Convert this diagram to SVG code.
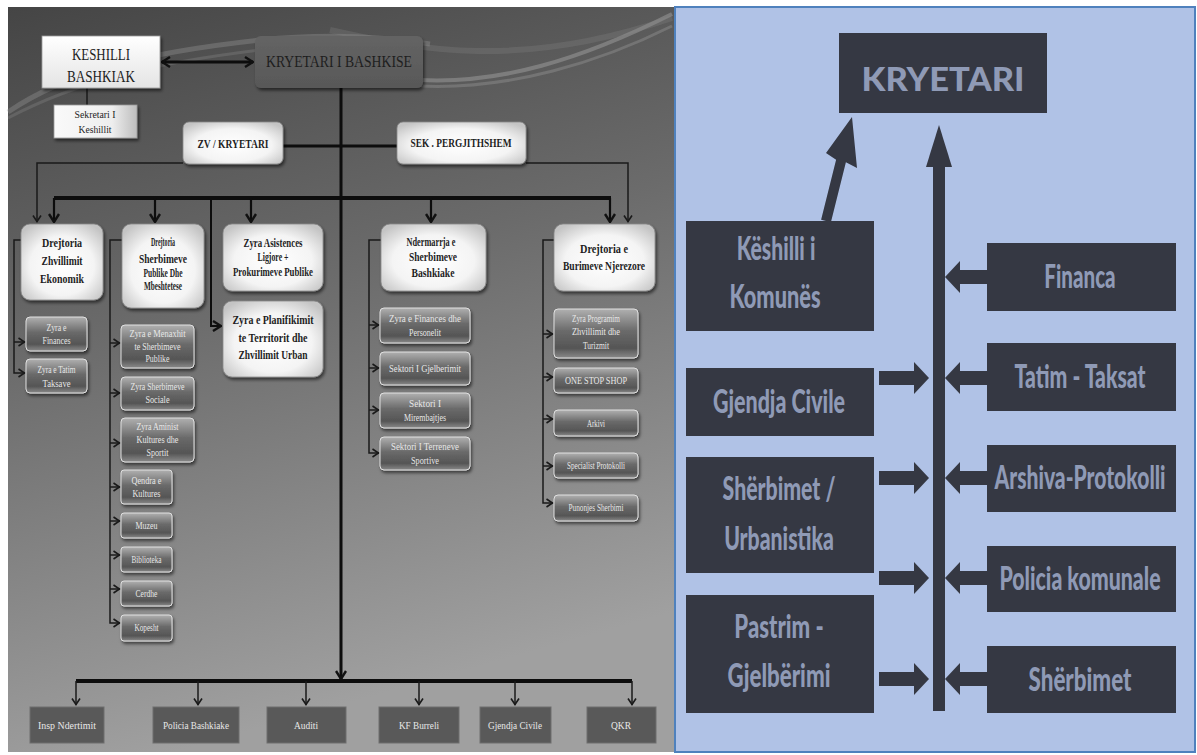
<svg xmlns="http://www.w3.org/2000/svg" width="1197" height="755" viewBox="0 0 1197 755">
<defs>
<linearGradient id="bgL" x1="0" y1="0" x2="0.25" y2="1">
<stop offset="0" stop-color="#454545"/>
<stop offset="0.45" stop-color="#6b6b6b"/>
<stop offset="1" stop-color="#a0a0a0"/>
</linearGradient>
<radialGradient id="gWhite" cx="0.5" cy="0.55" r="0.65">
<stop offset="0" stop-color="#ffffff"/>
<stop offset="0.6" stop-color="#f4f4f4"/>
<stop offset="1" stop-color="#c4c4c4"/>
</radialGradient>
<linearGradient id="gKes" x1="0" y1="0" x2="0" y2="1">
<stop offset="0" stop-color="#ffffff"/>
<stop offset="1" stop-color="#e4e4e4"/>
</linearGradient>
<linearGradient id="gSek" x1="0" y1="0" x2="1" y2="0">
<stop offset="0" stop-color="#fafafa"/>
<stop offset="0.7" stop-color="#eeeeee"/>
<stop offset="1" stop-color="#bdbdbd"/>
</linearGradient>
<linearGradient id="gChild" x1="0" y1="0" x2="0" y2="1">
<stop offset="0" stop-color="#b0b0b0"/>
<stop offset="0.45" stop-color="#6a6a6a"/>
<stop offset="0.8" stop-color="#555555"/>
<stop offset="1" stop-color="#8a8a8a"/>
</linearGradient>
<linearGradient id="gKry" x1="0" y1="0" x2="0" y2="1">
<stop offset="0" stop-color="#646464"/>
<stop offset="1" stop-color="#585858"/>
</linearGradient>
<filter id="sh" x="-10%" y="-10%" width="130%" height="140%">
<feDropShadow dx="1.5" dy="2.5" stdDeviation="1.8" flood-color="#000" flood-opacity="0.55"/>
</filter>
<marker id="v" viewBox="0 0 10 12" refX="9" refY="6" markerWidth="10" markerHeight="12" orient="auto-start-reverse" markerUnits="userSpaceOnUse">
<path d="M1,1 L9,6 L1,11" fill="none" stroke="#111" stroke-width="2.4"/>
</marker>
<marker id="vs" viewBox="0 0 8 10" refX="7.5" refY="5" markerWidth="8" markerHeight="10" orient="auto" markerUnits="userSpaceOnUse">
<path d="M1,1 L7,5 L1,9" fill="none" stroke="#1a1a1a" stroke-width="1.6"/>
</marker>
<style>
.s{font-family:"Liberation Serif","Times New Roman",serif;text-anchor:middle}
.tb{font-weight:bold;fill:#1e1e1e;font-size:11.5px}
.tc{fill:#e8e8e8;font-size:9.5px}
.td{fill:#1e1e1e}
.wbox{fill:url(#gWhite);stroke:#8a8a8a;stroke-width:0.8;filter:url(#sh)}
.cbox{fill:url(#gChild);stroke:#e0e0e0;stroke-width:1;filter:url(#sh)}
.bbox{fill:#595959;stroke:#6e6e6e;stroke-width:1}
.thick{stroke:#0d0d0d;fill:none}
.thin{stroke:#1a1a1a;stroke-width:1.5;fill:none}
.rb{fill:#353843}
.rt{font-family:Lato,"Open Sans","Liberation Sans",sans-serif;font-weight:900;fill:#8f9ab6;font-size:32px;text-anchor:middle}
.ra{fill:#353843}
</style>
</defs>

<rect x="0" y="0" width="1197" height="755" fill="#ffffff"/>

<!-- LEFT PANEL background -->
<rect x="8" y="7" width="666" height="745" fill="url(#bgL)"/>
<path d="M8,112 C70,70 150,52 260,40 C320,34 380,36 430,44" fill="none" stroke="#9a9a9a" stroke-opacity="0.35" stroke-width="5"/>
<path d="M8,118 C80,80 160,62 260,50" fill="none" stroke="#b0b0b0" stroke-opacity="0.2" stroke-width="3"/>
<path d="M420,80 C500,84 580,60 672,14" fill="none" stroke="#bdbdbd" stroke-opacity="0.35" stroke-width="4"/>
<path d="M420,86 C510,90 600,62 672,26" fill="none" stroke="#bdbdbd" stroke-opacity="0.25" stroke-width="3"/>
<path d="M330,30 C420,50 520,70 672,18" fill="none" stroke="#8a8a8a" stroke-opacity="0.25" stroke-width="6"/>

<!-- connectors (left) -->
<g id="connectors-left">
<path class="thick" d="M162,62 H253" stroke-width="3" marker-start="url(#v)" marker-end="url(#v)"/>
<path class="thin" d="M87,88 V105"/>
<path class="thick" d="M341,88 V679" stroke-width="3" marker-end="url(#v)"/>
<path class="thick" d="M283,146 H397" stroke-width="3"/>
<path class="thick" d="M54,198 H611" stroke-width="4"/>
<path class="thick" d="M54,198 V222" stroke-width="2.2" marker-end="url(#v)"/>
<path class="thick" d="M155,198 V222" stroke-width="2.2" marker-end="url(#v)"/>
<path class="thick" d="M251,198 V222" stroke-width="2.2" marker-end="url(#v)"/>
<path class="thick" d="M431,198 V222" stroke-width="2.2" marker-end="url(#v)"/>
<path class="thick" d="M610,198 V222" stroke-width="2.2" marker-end="url(#v)"/>
<path class="thick" d="M211,198 V326 H221" stroke-width="2" marker-end="url(#v)"/>
<path class="thin" d="M183,163 H37 V222" marker-end="url(#vs)"/>
<path class="thin" d="M526,163 H628 V222" marker-end="url(#vs)"/>
<path class="thin" d="M21,240 H14 V373 H25" marker-end="url(#vs)"/>
<path class="thin" d="M14,342 H25" marker-end="url(#vs)"/>
<path class="thin" d="M122,240 H110 V623 H120" marker-end="url(#vs)"/>
<path class="thin" d="M110,343 H120" marker-end="url(#vs)"/>
<path class="thin" d="M110,393 H120" marker-end="url(#vs)"/>
<path class="thin" d="M110,443 H120" marker-end="url(#vs)"/>
<path class="thin" d="M110,487 H120" marker-end="url(#vs)"/>
<path class="thin" d="M110,521 H120" marker-end="url(#vs)"/>
<path class="thin" d="M110,555 H120" marker-end="url(#vs)"/>
<path class="thin" d="M110,589 H120" marker-end="url(#vs)"/>
<path class="thin" d="M381,240 H369 V453 H379" marker-end="url(#vs)"/>
<path class="thin" d="M369,325 H379" marker-end="url(#vs)"/>
<path class="thin" d="M369,368 H379" marker-end="url(#vs)"/>
<path class="thin" d="M369,410 H379" marker-end="url(#vs)"/>
<path class="thin" d="M554,240 H543 V503 H553" marker-end="url(#vs)"/>
<path class="thin" d="M543,334 H553" marker-end="url(#vs)"/>
<path class="thin" d="M543,377 H553" marker-end="url(#vs)"/>
<path class="thin" d="M543,419 H553" marker-end="url(#vs)"/>
<path class="thin" d="M543,466 H553" marker-end="url(#vs)"/>
<path class="thick" d="M76,681 H632" stroke-width="4"/>
<path class="thin" d="M76,681 V705" marker-end="url(#vs)"/>
<path class="thin" d="M198,681 V705" marker-end="url(#vs)"/>
<path class="thin" d="M306,681 V705" marker-end="url(#vs)"/>
<path class="thin" d="M419,681 V705" marker-end="url(#vs)"/>
<path class="thin" d="M515,681 V705" marker-end="url(#vs)"/>
<path class="thin" d="M632,681 V705" marker-end="url(#vs)"/>
</g>

<g id="keshilli-bashkiak">
<rect x="42" y="36" width="118" height="52" fill="url(#gKes)" stroke="#9a9a9a" stroke-width="0.8" filter="url(#sh)"/>
<text class="s td" x="101" y="60" font-size="16" textLength="58" lengthAdjust="spacingAndGlyphs">KESHILLI</text>
<text class="s td" x="101" y="82" font-size="16" textLength="68" lengthAdjust="spacingAndGlyphs">BASHKIAK</text>
</g>
<g id="kryetari-bashkise">
<rect x="255" y="36" width="168" height="52" rx="6" fill="url(#gKry)" filter="url(#sh)"/>
<text class="s td" x="339" y="67" font-size="16" textLength="146" lengthAdjust="spacingAndGlyphs">KRYETARI I BASHKISE</text>
</g>
<g id="sekretari">
<rect x="54" y="105" width="83" height="33" fill="url(#gSek)" stroke="#9a9a9a" stroke-width="0.8" filter="url(#sh)"/>
<text class="s td" x="95" y="118" font-size="10.5" textLength="41" lengthAdjust="spacingAndGlyphs">Sekretari I</text>
<text class="s td" x="95" y="133" font-size="10.5" textLength="33" lengthAdjust="spacingAndGlyphs">Keshillit</text>
</g>
<g id="zv-kryetari">
<rect x="183" y="122" width="100" height="42" rx="6" class="wbox"/>
<text class="s tb" x="233" y="148" font-size="11" textLength="71" lengthAdjust="spacingAndGlyphs">ZV / KRYETARI</text>
</g>
<g id="sek-pergjithshem">
<rect x="397" y="122" width="129" height="42" rx="6" class="wbox"/>
<text class="s tb" x="461" y="147" font-size="11" textLength="101" lengthAdjust="spacingAndGlyphs">SEK . PERGJITHSHEM</text>
</g>

<g id="drejtoria-zhvillimit">
<rect x="21" y="224" width="82" height="76" rx="9" class="wbox"/>
<text class="s tb" x="62" y="247" textLength="40" lengthAdjust="spacingAndGlyphs">Drejtoria</text>
<text class="s tb" x="62" y="265" textLength="41" lengthAdjust="spacingAndGlyphs">Zhvillimit</text>
<text class="s tb" x="62" y="283" textLength="44" lengthAdjust="spacingAndGlyphs">Ekonomik</text>
</g>
<g id="drejtoria-sherbimeve">
<rect x="122" y="224" width="82" height="84" rx="9" class="wbox"/>
<text class="s tb" x="163" y="246" font-size="10" textLength="24" lengthAdjust="spacingAndGlyphs">Drejtoria</text>
<text class="s tb" x="163" y="263" textLength="48" lengthAdjust="spacingAndGlyphs">Sherbimeve</text>
<text class="s tb" x="163" y="277" font-size="10" textLength="39" lengthAdjust="spacingAndGlyphs">Publike Dhe</text>
<text class="s tb" x="163" y="290" font-size="10" textLength="38" lengthAdjust="spacingAndGlyphs">Mbeshtetese</text>
</g>
<g id="zyra-asistences">
<rect x="223" y="224" width="100" height="67" rx="9" class="wbox"/>
<text class="s tb" x="273" y="247" font-size="10.5" textLength="59" lengthAdjust="spacingAndGlyphs">Zyra Asistences</text>
<text class="s tb" x="273" y="261" font-size="10.5" textLength="31" lengthAdjust="spacingAndGlyphs">Ligjore +</text>
<text class="s tb" x="273" y="276" font-size="10.5" textLength="80" lengthAdjust="spacingAndGlyphs">Prokurimeve Publike</text>
</g>
<g id="zyra-planifikimit">
<rect x="223" y="301" width="100" height="76" rx="9" class="wbox"/>
<text class="s tb" x="273" y="324" textLength="81" lengthAdjust="spacingAndGlyphs">Zyra  e  Planifikimit</text>
<text class="s tb" x="273" y="342" textLength="69" lengthAdjust="spacingAndGlyphs">te Territorit dhe</text>
<text class="s tb" x="273" y="359" textLength="69" lengthAdjust="spacingAndGlyphs">Zhvillimit Urban</text>
</g>
<g id="ndermarrja">
<rect x="381" y="224" width="105" height="67" rx="9" class="wbox"/>
<text class="s tb" x="431" y="246" textLength="49" lengthAdjust="spacingAndGlyphs">Ndermarrja e</text>
<text class="s tb" x="433" y="261" textLength="48" lengthAdjust="spacingAndGlyphs">Sherbimeve</text>
<text class="s tb" x="433" y="277" textLength="43" lengthAdjust="spacingAndGlyphs">Bashkiake</text>
</g>
<g id="drejtoria-burimeve">
<rect x="554" y="224" width="101" height="67" rx="9" class="wbox"/>
<text class="s tb" x="604" y="253" textLength="48" lengthAdjust="spacingAndGlyphs">Drejtoria  e</text>
<text class="s tb" x="604" y="270" textLength="82" lengthAdjust="spacingAndGlyphs">Burimeve Njerezore</text>
</g>

<g id="zyra-finances"><rect x="26" y="317" width="61" height="34" rx="4" class="cbox"/>
<text class="s tc" x="56.5" y="331" textLength="20" lengthAdjust="spacingAndGlyphs">Zyra e</text>
<text class="s tc" x="56.5" y="344" textLength="28" lengthAdjust="spacingAndGlyphs">Finances</text></g>
<g id="zyra-tatim"><rect x="26" y="359" width="61" height="34" rx="4" class="cbox"/>
<text class="s tc" x="56.5" y="373" textLength="38" lengthAdjust="spacingAndGlyphs">Zyra e Tatim</text>
<text class="s tc" x="56.5" y="387" textLength="28" lengthAdjust="spacingAndGlyphs">Taksave</text></g>

<g id="zyra-menaxhit"><rect x="121" y="325" width="73" height="43" rx="4" class="cbox"/>
<text class="s tc" x="157.5" y="337" textLength="56" lengthAdjust="spacingAndGlyphs">Zyra e  Menaxhit</text>
<text class="s tc" x="157.5" y="350" textLength="46" lengthAdjust="spacingAndGlyphs">te Sherbimeve</text>
<text class="s tc" x="157.5" y="362" textLength="24" lengthAdjust="spacingAndGlyphs">Publike</text></g>
<g id="zyra-sherbimeve-sociale"><rect x="121" y="377" width="73" height="33" rx="4" class="cbox"/>
<text class="s tc" x="157.5" y="390" textLength="54" lengthAdjust="spacingAndGlyphs">Zyra Sherbimeve</text>
<text class="s tc" x="157.5" y="403" textLength="24" lengthAdjust="spacingAndGlyphs">Sociale</text></g>
<g id="zyra-aminist"><rect x="121" y="418" width="73" height="44" rx="4" class="cbox"/>
<text class="s tc" x="157.5" y="430" textLength="42" lengthAdjust="spacingAndGlyphs">Zyra  Aminist</text>
<text class="s tc" x="157.5" y="443" textLength="42" lengthAdjust="spacingAndGlyphs">Kultures  dhe</text>
<text class="s tc" x="157.5" y="456" textLength="22" lengthAdjust="spacingAndGlyphs">Sportit</text></g>
<g id="qendra-kultures"><rect x="121" y="470" width="51" height="34" rx="3" class="cbox"/>
<text class="s tc" x="146.5" y="484" textLength="30" lengthAdjust="spacingAndGlyphs">Qendra e</text>
<text class="s tc" x="146.5" y="497" textLength="28" lengthAdjust="spacingAndGlyphs">Kultures</text></g>
<g id="muzeu"><rect x="121" y="513" width="51" height="25" rx="3" class="cbox"/>
<text class="s tc" x="146.5" y="529" textLength="22" lengthAdjust="spacingAndGlyphs">Muzeu</text></g>
<g id="biblioteka"><rect x="121" y="547" width="51" height="25" rx="3" class="cbox"/>
<text class="s tc" x="146.5" y="563" textLength="30" lengthAdjust="spacingAndGlyphs">Biblioteka</text></g>
<g id="cerdhe"><rect x="121" y="581" width="51" height="25" rx="3" class="cbox"/>
<text class="s tc" x="146.5" y="597" textLength="22" lengthAdjust="spacingAndGlyphs">Cerdhe</text></g>
<g id="kopesht"><rect x="121" y="615" width="51" height="26" rx="3" class="cbox"/>
<text class="s tc" x="146.5" y="631" textLength="24" lengthAdjust="spacingAndGlyphs">Kopesht</text></g>

<g id="zyra-finances-personelit"><rect x="380" y="308" width="90" height="35" rx="4" class="cbox"/>
<text class="s tc" x="425" y="322" textLength="72" lengthAdjust="spacingAndGlyphs">Zyra e  Finances dhe</text>
<text class="s tc" x="425" y="336" textLength="32" lengthAdjust="spacingAndGlyphs">Personelit</text></g>
<g id="sektori-gjelberimit"><rect x="380" y="352" width="90" height="33" rx="4" class="cbox"/>
<text class="s tc" x="425" y="372" textLength="72" lengthAdjust="spacingAndGlyphs">Sektori I Gjelberimit</text></g>
<g id="sektori-mirembajtjes"><rect x="380" y="393" width="90" height="35" rx="4" class="cbox"/>
<text class="s tc" x="425" y="407" textLength="32" lengthAdjust="spacingAndGlyphs">Sektori  I</text>
<text class="s tc" x="425" y="421" textLength="42" lengthAdjust="spacingAndGlyphs">Mirembajtjes</text></g>
<g id="sektori-terreneve"><rect x="380" y="437" width="90" height="33" rx="4" class="cbox"/>
<text class="s tc" x="425" y="450" textLength="68" lengthAdjust="spacingAndGlyphs">Sektori I Terreneve</text>
<text class="s tc" x="425" y="464" textLength="28" lengthAdjust="spacingAndGlyphs">Sportive</text></g>

<g id="zyra-programim"><rect x="554" y="309" width="84" height="49" rx="4" class="cbox"/>
<text class="s tc" x="596" y="322" textLength="48" lengthAdjust="spacingAndGlyphs">Zyra  Programim</text>
<text class="s tc" x="596" y="335" textLength="48" lengthAdjust="spacingAndGlyphs">Zhvillimit dhe</text>
<text class="s tc" x="596" y="349" textLength="26" lengthAdjust="spacingAndGlyphs">Turizmit</text></g>
<g id="one-stop-shop"><rect x="554" y="368" width="84" height="25" rx="4" class="cbox"/>
<text class="s tc" x="596" y="384" textLength="62" lengthAdjust="spacingAndGlyphs">ONE STOP SHOP</text></g>
<g id="arkivi"><rect x="554" y="410" width="84" height="26" rx="4" class="cbox"/>
<text class="s tc" x="596" y="427" textLength="18" lengthAdjust="spacingAndGlyphs">Arkivi</text></g>
<g id="specialist-protokolli"><rect x="554" y="453" width="84" height="25" rx="4" class="cbox"/>
<text class="s tc" x="596" y="469" textLength="58" lengthAdjust="spacingAndGlyphs">Specialist  Protokolli</text></g>
<g id="punonjes-sherbimi"><rect x="554" y="495" width="84" height="26" rx="4" class="cbox"/>
<text class="s tc" x="596" y="511" textLength="55" lengthAdjust="spacingAndGlyphs">Punonjes Sherbimi</text></g>

<g id="insp-ndertimit"><rect x="30" y="707" width="74" height="36" class="bbox"/>
<text class="s tc" x="67" y="729" font-size="10" textLength="58" lengthAdjust="spacingAndGlyphs">Insp Ndertimit</text></g>
<g id="policia-bashkiake"><rect x="153" y="707" width="86" height="36" class="bbox"/>
<text class="s tc" x="196" y="729" font-size="10" textLength="66" lengthAdjust="spacingAndGlyphs">Policia Bashkiake</text></g>
<g id="auditi"><rect x="267" y="707" width="79" height="36" class="bbox"/>
<text class="s tc" x="306" y="729" font-size="10" textLength="24" lengthAdjust="spacingAndGlyphs">Auditi</text></g>
<g id="kf-burreli"><rect x="379" y="707" width="80" height="36" class="bbox"/>
<text class="s tc" x="419" y="729" font-size="10" textLength="40" lengthAdjust="spacingAndGlyphs">KF  Burreli</text></g>
<g id="gjendja-civile-l"><rect x="480" y="707" width="71" height="36" class="bbox"/>
<text class="s tc" x="515" y="729" font-size="10" textLength="54" lengthAdjust="spacingAndGlyphs">Gjendja Civile</text></g>
<g id="qkr"><rect x="587" y="707" width="69" height="36" class="bbox"/>
<text class="s tc" x="621" y="729" font-size="10" textLength="20" lengthAdjust="spacingAndGlyphs">QKR</text></g>

<!-- RIGHT PANEL -->
<rect x="675" y="7" width="520" height="745" fill="#b0c2e6" stroke="#4f81bd" stroke-width="2"/>

<g id="connectors-right">
<rect x="933" y="164" width="12" height="547" class="ra"/>
<polygon points="939,125 952,167 926,167" class="ra"/>
<polygon points="821.1,219.8 830.9,222.2 845.9,162.2 857,168 852,117 826,153 836.1,159.8" class="ra"/>
<polygon points="987,270 960,270 960,261 945,277 960,293 960,284 987,284" class="ra"/>
<polygon points="987,371 960,371 960,362 945,378 960,394 960,385 987,385" class="ra"/>
<polygon points="879,371 914,371 914,362 929,378 914,394 914,385 879,385" class="ra"/>
<polygon points="987,471 960,471 960,462 945,478 960,494 960,485 987,485" class="ra"/>
<polygon points="879,471 914,471 914,462 929,478 914,494 914,485 879,485" class="ra"/>
<polygon points="987,571 960,571 960,562 945,578 960,594 960,585 987,585" class="ra"/>
<polygon points="879,571 914,571 914,562 929,578 914,594 914,585 879,585" class="ra"/>
<polygon points="987,672 960,672 960,663 945,679 960,695 960,686 987,686" class="ra"/>
<polygon points="879,672 914,672 914,663 929,679 914,695 914,686 879,686" class="ra"/>
</g>

<g id="kryetari-r"><rect x="839" y="33" width="208" height="80" class="rb"/>
<text class="rt" transform="translate(943,91) scale(0.62,1)" font-size="52" textLength="263" lengthAdjust="spacingAndGlyphs">KRYETARI</text></g>
<g id="keshilli-komunes"><rect x="686" y="221" width="188" height="110" class="rb"/>
<text class="rt" transform="translate(776,260) scale(0.62,1)" textLength="127" lengthAdjust="spacingAndGlyphs">Këshilli i</text>
<text class="rt" transform="translate(775,308) scale(0.62,1)" textLength="147" lengthAdjust="spacingAndGlyphs">Komunës</text></g>
<g id="financa"><rect x="987" y="243" width="189" height="68" class="rb"/>
<text class="rt" transform="translate(1080,288) scale(0.62,1)" textLength="115" lengthAdjust="spacingAndGlyphs">Financa</text></g>
<g id="tatim-taksat"><rect x="987" y="343" width="189" height="68" class="rb"/>
<text class="rt" transform="translate(1080,388) scale(0.62,1)" textLength="211" lengthAdjust="spacingAndGlyphs">Tatim - Taksat</text></g>
<g id="gjendja-civile-r"><rect x="686" y="368" width="188" height="68" class="rb"/>
<text class="rt" transform="translate(779,413) scale(0.62,1)" textLength="213" lengthAdjust="spacingAndGlyphs">Gjendja Civile</text></g>
<g id="sherbimet-urbanistika"><rect x="686" y="457" width="188" height="116" class="rb"/>
<text class="rt" transform="translate(779,500) scale(0.62,1)" textLength="182" lengthAdjust="spacingAndGlyphs">Shërbimet /</text>
<text class="rt" transform="translate(779,550) scale(0.62,1)" textLength="177" lengthAdjust="spacingAndGlyphs">Urbanistika</text></g>
<g id="arshiva-protokolli"><rect x="987" y="445" width="189" height="67" class="rb"/>
<text class="rt" transform="translate(1080,489) scale(0.62,1)" textLength="276" lengthAdjust="spacingAndGlyphs">Arshiva-Protokolli</text></g>
<g id="policia-komunale"><rect x="987" y="546" width="189" height="66" class="rb"/>
<text class="rt" transform="translate(1080,590) scale(0.62,1)" textLength="260" lengthAdjust="spacingAndGlyphs">Policia komunale</text></g>
<g id="pastrim-gjelberimi"><rect x="686" y="595" width="188" height="118" class="rb"/>
<text class="rt" transform="translate(779,638) scale(0.62,1)" textLength="144" lengthAdjust="spacingAndGlyphs">Pastrim -</text>
<text class="rt" transform="translate(779,687) scale(0.62,1)" textLength="166" lengthAdjust="spacingAndGlyphs">Gjelbërimi</text></g>
<g id="sherbimet-r"><rect x="987" y="646" width="189" height="67" class="rb"/>
<text class="rt" transform="translate(1080,691) scale(0.62,1)" textLength="166" lengthAdjust="spacingAndGlyphs">Shërbimet</text></g>
</svg>
